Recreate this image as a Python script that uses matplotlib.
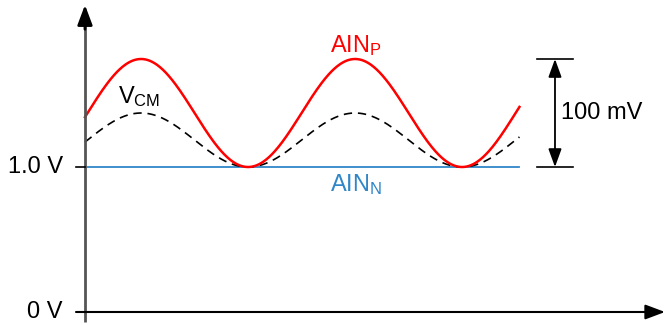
import matplotlib.pyplot as plt
import numpy as np

plt.rcParams["font.family"] = ["Liberation Sans", "DejaVu Sans"]
plt.rcParams["mathtext.fontset"] = "custom"
plt.rcParams["mathtext.rm"] = "Liberation Sans"
plt.rcParams["mathtext.it"] = "Liberation Sans:italic"

# diagram units: x in signal periods, y in "volts" (schematic, not to scale)
level_labels = ["0 V", "1.0 V"]
level_values = [0.0, 1.0]
ain_n_level = 1.0
ain_p_swing = 0.745          # drawn height of the 100 mV swing
min_phase = 0.762            # first AINP minimum, in periods
signal_end = 2.03
swing_label = "100 mV"

RED = "#ff0000"
BLUE = "#2f86c8"
FS = 17

t = np.linspace(0, signal_end, 600)
ain_p = ain_n_level + ain_p_swing * (1 - np.cos(2 * np.pi * (t - min_phase))) / 2
ain_n = np.full_like(t, ain_n_level)
v_cm = (ain_p + ain_n) / 2

fig = plt.figure(figsize=(6.68, 3.25), dpi=100)
ax = fig.add_axes([0, 0, 1, 1])
ax.set_xlim(-0.397, 2.724)
ax.set_ylim(-0.0897, 2.152)
ax.axis("off")

ax.plot(t, ain_n, color=BLUE, lw=1.3)
ax.plot(t, v_cm, color="black", lw=1.2, ls=(0, (5, 3.5)))
ax.plot(t, ain_p, color=RED, lw=1.8)

# axes with arrows
ax.plot([0, 0], [-0.069, 2.0], color="#555555", lw=2, solid_capstyle="butt")
ax.annotate("", xy=(0, 2.118), xytext=(0, 1.95),
            arrowprops=dict(arrowstyle="-|>,head_length=1.2,head_width=0.45", color="black",
                            lw=2, shrinkA=0, shrinkB=0))
ax.annotate("", xy=(2.71, 0), xytext=(-0.042, 0),
            arrowprops=dict(arrowstyle="-|>,head_length=1.2,head_width=0.45", color="black",
                            lw=1.5, shrinkA=0, shrinkB=0))
ax.plot([-0.042, 0], [level_values[1]] * 2, color="black", lw=1.2)

for lab, val in zip(level_labels, level_values):
    ax.text(-0.103, val, lab, ha="right", va="center", fontsize=FS)

ax.text(1.145, 1.841, r"AIN$_\mathrm{P}$", color=RED, fontsize=FS, va="center")
ax.text(1.145, 0.876, r"AIN$_\mathrm{N}$", color=BLUE, fontsize=FS, va="center")
ax.text(0.154, 1.483, r"V$_\mathrm{CM}$", color="black", fontsize=FS, va="center")

# swing bracket
top = ain_n_level + ain_p_swing
for y in (ain_n_level, top):
    ax.plot([2.112, 2.280], [y, y], color="black", lw=1.2)
ax.annotate("", xy=(2.196, top), xytext=(2.196, ain_n_level),
            arrowprops=dict(arrowstyle="<|-|>,head_length=1.1,head_width=0.4", color="black",
                            lw=1.3, shrinkA=0, shrinkB=0))
ax.text(2.224, 1.372, swing_label, fontsize=FS, va="center")

fig.savefig("out.png", dpi=100)
